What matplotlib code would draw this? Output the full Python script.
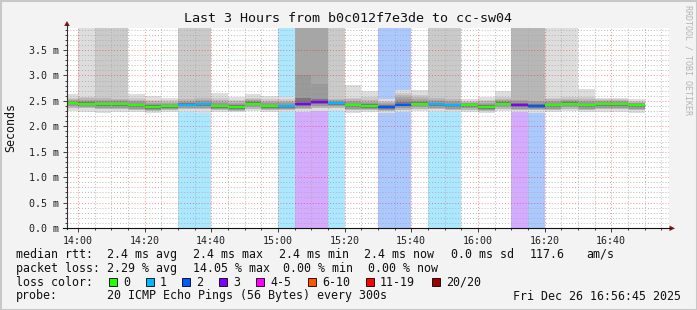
import numpy as np
import matplotlib
matplotlib.use('Agg')
import matplotlib.pyplot as plt
from matplotlib.patches import Rectangle, Polygon
from matplotlib.lines import Line2D

# ---- data (values in ms) ----
steps = ['13:55', '14:00', '14:05', '14:10', '14:15', '14:20', '14:25', '14:30', '14:35',
         '14:40', '14:45', '14:50', '14:55', '15:00', '15:05', '15:10', '15:15', '15:20',
         '15:25', '15:30', '15:35', '15:40', '15:45', '15:50', '15:55', '16:00', '16:05',
         '16:10', '16:15', '16:20', '16:25', '16:30', '16:35', '16:40', '16:45']
loss = [0, 0, 0, 0, 0, 0, 0, 1, 1, 0, 0, 0, 0, 1, 3, 3, 1, 0, 0, 2, 2, 0, 1, 1, 0, 0, 0, 3, 2, 0, 0, 0, 0, 0, 0]

median = [2.46, 2.44, 2.43, 2.43, 2.41, 2.38, 2.39, 2.42, 2.43, 2.39, 2.38, 2.44, 2.39, 2.39, 2.43, 2.47, 2.45, 2.41,
          2.40, 2.38, 2.42, 2.44, 2.43, 2.41, 2.41, 2.38, 2.44, 2.41, 2.40, 2.41, 2.44, 2.41, 2.43, 2.43, 2.41]
# upper smoke edges (max ping, 2nd, 3rd ... from the top); 4.5 = off the chart
ping_max = [2.64, 4.5, 4.5, 4.5, 2.63, 2.59, 2.55, 4.5, 4.5, 2.65, 2.57, 2.63, 2.59, 2.57, 4.5, 4.5, 4.5, 2.81,
            2.69, 2.53, 2.71, 2.71, 4.5, 4.5, 2.53, 2.58, 2.69, 4.5, 4.5, 4.5, 4.5, 2.73, 2.56, 2.56, 2.53]
ping_hi2 = [2.56, 2.58, 4.5, 4.5, 2.55, 2.52, 2.51, 4.5, 4.5, 2.56, 2.52, 2.56, 2.53, 2.53, 4.5, 4.5, 4.5, 2.56,
            2.57, 2.50, 2.65, 2.62, 4.5, 4.5, 2.50, 2.52, 2.58, 4.5, 4.5, 2.56, 2.57, 2.58, 2.53, 2.53, 2.50]
ping_hi3 = [2.54, 2.55, 2.55, 2.54, 2.52, 2.49, 2.48, 2.53, 2.56, 2.52, 2.49, 2.53, 2.50, 2.50, 4.5, 4.5, 2.53, 2.53,
            2.52, 2.48, 2.62, 2.57, 2.55, 2.53, 2.48, 2.49, 2.54, 4.5, 4.5, 2.53, 2.54, 2.53, 2.51, 2.51, 2.48]
ping_hi4 = [2.52, 2.52, 2.52, 2.51, 2.49, 2.46, 2.46, 2.50, 2.52, 2.48, 2.46, 2.51, 2.47, 2.47, 4.5, 4.5, 2.51, 2.50,
            2.48, 2.46, 2.57, 2.53, 2.52, 2.50, 2.46, 2.46, 2.51, 2.52, 2.50, 2.50, 2.51, 2.50, 2.49, 2.49, 2.46]
ping_hi5 = [2.50, 2.50, 2.49, 2.49, 2.47, 2.44, 2.44, 2.48, 2.50, 2.45, 2.44, 2.49, 2.45, 2.45, 3.01, 2.83, 2.50, 2.47,
            2.45, 2.44, 2.53, 2.50, 2.50, 2.47, 2.45, 2.44, 2.49, 2.49, 2.47, 2.47, 2.49, 2.47, 2.47, 2.47, 2.45]
ping_hi7 = [2.48, 2.47, 2.46, 2.46, 2.44, 2.41, 2.42, 2.45, 2.46, 2.42, 2.41, 2.47, 2.42, 2.42, 2.56, 2.53, 2.48, 2.44,
            2.43, 2.41, 2.47, 2.47, 2.46, 2.44, 2.44, 2.41, 2.47, 2.45, 2.44, 2.44, 2.47, 2.44, 2.46, 2.46, 2.44]
# lower smoke edges
ping_lo7 = [2.43, 2.41, 2.40, 2.40, 2.38, 2.35, 2.36, 2.39, 2.40, 2.36, 2.35, 2.41, 2.36, 2.36, 2.40, 2.43, 2.42, 2.38,
            2.37, 2.35, 2.39, 2.41, 2.40, 2.38, 2.38, 2.35, 2.41, 2.38, 2.37, 2.38, 2.41, 2.38, 2.40, 2.40, 2.38]
ping_lo5 = [2.40, 2.38, 2.37, 2.37, 2.35, 2.33, 2.34, 2.36, 2.37, 2.34, 2.33, 2.38, 2.34, 2.34, 2.37, 2.39, 2.39, 2.35,
            2.35, 2.33, 2.36, 2.38, 2.37, 2.35, 2.36, 2.33, 2.38, 2.35, 2.34, 2.35, 2.38, 2.35, 2.37, 2.37, 2.35]
ping_lo3 = [2.36, 2.36, 2.34, 2.34, 2.33, 2.31, 2.32, 2.34, 2.34, 2.32, 2.31, 2.35, 2.32, 2.32, 2.34, 2.36, 2.36, 2.33,
            2.32, 2.31, 2.33, 2.35, 2.34, 2.33, 2.33, 2.31, 2.35, 2.33, 2.32, 2.33, 2.35, 2.33, 2.34, 2.34, 2.32]
ping_min = [2.31, 2.29, 2.27, 2.28, 2.29, 2.27, 2.28, 2.28, 2.27, 2.29, 2.28, 2.30, 2.29, 2.28, 2.29, 2.30, 2.30, 2.27,
            2.28, 2.27, 2.28, 2.30, 2.28, 2.28, 2.29, 2.27, 2.30, 2.28, 2.27, 2.28, 2.30, 2.29, 2.29, 2.29, 2.27]

x_labels = ['14:00', '14:20', '14:40', '15:00', '15:20', '15:40', '16:00', '16:20', '16:40']
y_ticks = [0.0, 0.5, 1.0, 1.5, 2.0, 2.5, 3.0, 3.5]

loss_cols = {0: '#26ff00', 1: '#00b8ff', 2: '#0059ff', 3: '#7e00ff'}
legend_names = ['0', '1', '2', '3', '4-5', '6-10', '11-19', '20/20']
legend_cols = ['#26ff00', '#00b8ff', '#0059ff', '#7e00ff', '#ff00ff', '#ff5500', '#ff0000', '#a00000']

W, H = 697, 310
MONO = 'DejaVu Sans Mono'


def fx(px):
    return px / W


def fy(py):
    return 1 - py / H


def light(c, a=0.33):
    r, g, b = matplotlib.colors.to_rgb(c)
    return (1 - a + a * r, 1 - a + a * g, 1 - a + a * b)


def minutes(s):
    h, m = s.split(':')
    return (int(h) - 14) * 60 + int(m)


t0 = np.array([minutes(s) for s in steps])

fig = plt.figure(figsize=(W / 100, H / 100), dpi=100)
fig.patch.set_facecolor('#f3f3f3')
ax = fig.add_axes([fx(67), fy(228), fx(669) - fx(67), fy(27.7) - fy(228)])
ax.set_facecolor('white')
ax.set_xlim(-3.25, 177.35)
ax.set_ylim(0, 3.94)

# loss background columns
for i in range(len(steps)):
    if loss[i] > 0:
        ax.bar(t0[i], 4.5, width=5, align='edge', color=light(loss_cols[loss[i]]), linewidth=0, zorder=1)

# smoke: nested bands, inner ones darker
bands = [(ping_min, ping_max, '#dddddd'),
         (ping_lo3, ping_hi2, '#cacaca'),
         (ping_lo3, ping_hi3, '#b7b7b7'),
         (ping_lo5, ping_hi4, '#a6a6a6'),
         (ping_lo5, ping_hi5, '#999999'),
         (ping_lo7, ping_hi7, '#787878')]
for lo, hi, col in bands:
    lo = np.array(lo)
    hi = np.array(hi)
    ax.bar(t0, hi - lo, bottom=lo, width=5, align='edge', color=col, linewidth=0, zorder=2)

# grid on top of the smoke
for v in np.arange(0.1, 3.95, 0.1):
    major = abs(v / 0.5 - round(v / 0.5)) < 1e-6
    ax.axhline(v, color='#ff0000' if major else '#a8a8a8', alpha=0.45 if major else 0.8,
               lw=0.7, ls=(0, (1, 2)), zorder=3)
for t in range(0, 178, 5):
    major = t % 20 == 0
    ax.axvline(t, color='#ff0000' if major else '#a8a8a8', alpha=0.45 if major else 0.8,
               lw=0.7, ls=(0, (1, 2)), zorder=3)

# median line coloured by loss
for i in range(len(steps)):
    ax.hlines(median[i], t0[i], t0[i] + 5, colors=loss_cols[loss[i]], lw=1.6, zorder=4)

for s in ax.spines.values():
    s.set_visible(False)
ax.set_yticks(y_ticks)
ax.set_yticklabels(['%.1f m' % v for v in y_ticks])
ax.set_yticks(np.arange(0, 3.95, 0.1), minor=True)
ax.set_xticks([minutes(s) for s in x_labels])
ax.set_xticklabels(x_labels)
ax.set_xticks(range(0, 178, 5), minor=True)
ax.tick_params(which='major', length=3, width=0.7, color='#404040', pad=3,
               labelsize=7.2, labelcolor='#202020')
ax.tick_params(which='minor', length=1.5, width=0.7, color='#404040')
for lab in ax.get_xticklabels() + ax.get_yticklabels():
    lab.set_family(MONO)

# axes with arrows
fig.add_artist(Line2D([fx(67), fx(67)], [fy(228.5), fy(24)], color='#303030', lw=0.8))
fig.add_artist(Line2D([fx(63), fx(670)], [fy(228.3), fy(228.3)], color='#101010', lw=0.8))
fig.add_artist(Polygon([[fx(67), fy(21)], [fx(64.2), fy(26)], [fx(69.8), fy(26)]], closed=True,
                       color='#8b1010', lw=0))
fig.add_artist(Polygon([[fx(675), fy(228.3)], [fx(669.5), fy(225.6)], [fx(669.5), fy(231)]], closed=True,
                       color='#8b1010', lw=0))

fig.text(0.5, fy(18), 'Last 3 Hours from b0c012f7e3de to cc-sw04', ha='center', va='center',
         family=MONO, fontsize=9.6, color='#101010')
fig.text(fx(10.5), fy(127.5), 'Seconds', rotation=90, ha='center', va='center',
         family=MONO, fontsize=8.4, color='#101010')
fig.text(fx(688), fy(5), 'RRDTOOL / TOBI OETIKER', rotation=270, ha='center', va='top',
         family=MONO, fontsize=6, color='#b4b4b4')

# legend lines
fs = 8.4
rows = [(254.3, [(16, 'median rtt:'), (107, '2.4 ms avg'), (193, '2.4 ms max'), (279, '2.4 ms min'),
                 (364, '2.4 ms now'), (451, '0.0 ms sd'), (530, '117.6'), (586, 'am/s')]),
        (268.3, [(16, 'packet loss:'), (107, '2.29 % avg'), (193, '14.05 % max'), (283, '0.00 % min'),
                 (368, '0.00 % now')]),
        (282.3, [(16, 'loss color:')]),
        (296, [(16, 'probe:'), (107, '20 ICMP Echo Pings (56 Bytes) every 300s')])]
for yy, items in rows:
    for xx, txt in items:
        fig.text(fx(xx), fy(yy), txt, ha='left', va='center', family=MONO, fontsize=fs, color='#101010')
fig.text(fx(681), fy(296), 'Fri Dec 26 16:56:45 2025', ha='right', va='center', family=MONO,
         fontsize=fs, color='#101010')

box_x = [109, 146, 182, 219, 256, 308, 366, 432]
for bx, name, col in zip(box_x, legend_names, legend_cols):
    fig.add_artist(Rectangle((fx(bx), fy(286.3)), 8 / W, 8 / H, facecolor=col, edgecolor='#000000', lw=0.6))
    fig.text(fx(bx + 14), fy(282.3), name, ha='left', va='center', family=MONO, fontsize=fs, color='#101010')

# image frame
fig.add_artist(Rectangle((0, 0), 1, 1, transform=fig.transFigure, fill=False, edgecolor='#c8c8c8', lw=2.2))

fig.savefig('out.png', dpi=100, facecolor=fig.get_facecolor())
